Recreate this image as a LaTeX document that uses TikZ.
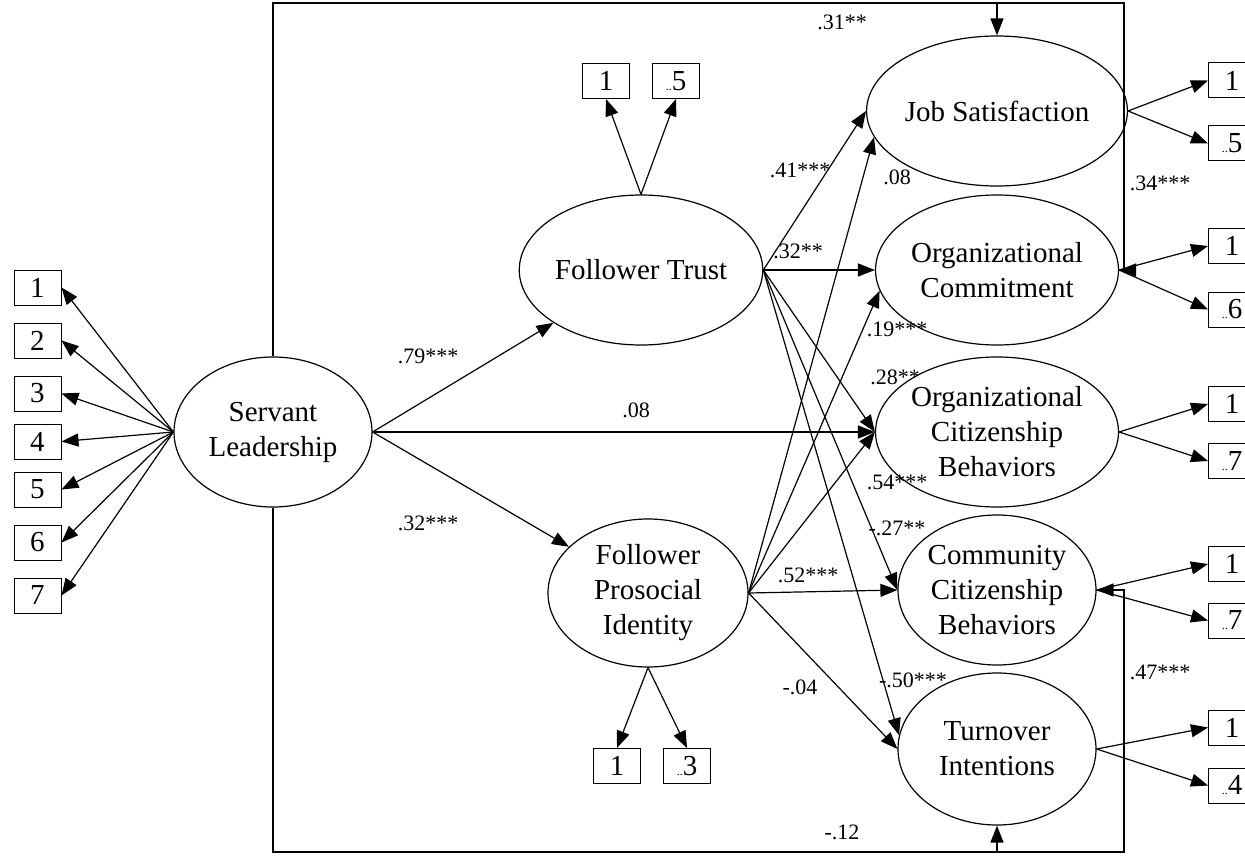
\documentclass[tikz,border=0pt]{standalone}
\usepackage{fontspec}
\setmainfont{Liberation Serif}
\usetikzlibrary{shapes.geometric,arrows.meta}
\newcommand{\bigfnt}{\fontsize{29}{35}\selectfont}
\newcommand{\labfnt}{\fontsize{22}{26}\selectfont}
\newcommand{\dd}{{\fontsize{12}{12}\selectfont ..}}
\tikzset{
  lat/.style={ellipse, draw, line width=1.2pt, minimum width=198pt, minimum height=150pt, inner sep=0pt, align=center, font=\bigfnt},
  ind/.style={draw, line width=1pt, minimum width=47pt, minimum height=35pt, inner sep=0pt, font=\bigfnt},
  lab/.style={font=\labfnt, inner sep=0pt},
  arr/.style={-{Triangle[length=17pt,width=13pt]}, line width=1.2pt},
  frame/.style={line width=1.5pt},
}
\begin{document}
\begin{tikzpicture}[x=1pt,y=-1pt]
\useasboundingbox (0,0) rectangle (1245,856);
% latent variables
\node[lat] (SL) at (273,432) {Servant\\Leadership};
\node[lat] (FT) at (641,270) {Follower Trust};
\node[lat, minimum width=200pt, minimum height=148pt] (FPI) at (648,593) {Follower\\Prosocial\\Identity};
\node[lat] (JS) at (997,111) {Job Satisfaction};
\node[lat] (OC) at (997,270) {Organizational\\Commitment};
\node[lat] (OCB) at (997,432) {Organizational\\Citizenship\\Behaviors};
\node[lat] (CCB) at (997,590) {Community\\Citizenship\\Behaviors};
\node[lat, minimum height=152pt] (TI) at (997,749) {Turnover\\Intentions};
% left indicators
\node[ind] (s1) at (37.5,287.5) {1};
\node[ind] (s2) at (37.5,340.5) {2};
\node[ind] (s3) at (37.5,393.5) {3};
\node[ind] (s4) at (37.5,441.5) {4};
\node[ind] (s5) at (37.5,489.5) {5};
\node[ind] (s6) at (37.5,542.5) {6};
\node[ind] (s7) at (37.5,595.5) {7};
\foreach \i in {1,...,7} \draw[arr] (SL.west) -- (s\i.east);
% FT indicators
\node[ind] (t1) at (606,81) {1};
\node[ind] (t2) at (676,81) {\dd5};
\draw[arr] (FT.north) -- (t1.south);
\draw[arr] (FT.north) -- (t2.south);
% FPI indicators
\node[ind] (p1) at (617,766) {1};
\node[ind] (p2) at (687,766) {\dd3};
\draw[arr] (FPI.south) -- (p1.north);
\draw[arr] (FPI.south) -- (p2.north);
% right indicators
\node[ind] (j1) at (1232,80.5) {1};
\node[ind] (j2) at (1232,143.5) {\dd5};
\node[ind] (c1) at (1232,246) {1};
\node[ind] (c2) at (1232,309.5) {\dd6};
\node[ind] (o1) at (1232,404) {1};
\node[ind] (o2) at (1232,461) {\dd7};
\node[ind] (m1) at (1232,564) {1};
\node[ind] (m2) at (1232,620.5) {\dd7};
\node[ind] (u1) at (1232,727.5) {1};
\node[ind] (u2) at (1232,785.5) {\dd4};
\draw[arr] (JS.east) -- (j1.west);
\draw[arr] (JS.east) -- (j2.west);
\draw[arr] (OC.east) -- (c1.west);
\draw[arr] (OC.east) -- (c2.west);
\draw[arr] (OCB.east) -- (o1.west);
\draw[arr] (OCB.east) -- (o2.west);
\draw[arr] (CCB.east) -- (m1.west);
\draw[arr] (CCB.east) -- (m2.west);
\draw[arr] (TI.east) -- (u1.west);
\draw[arr] (TI.east) -- (u2.west);
% structural paths
\draw[arr] (SL.east) -- (FT);
\draw[arr] (SL.east) -- (FPI);
\draw[arr] (SL.east) -- (OCB.west);
\draw[arr] (FT.east) -- (JS.west);
\draw[arr] (FT.east) -- (OC.west);
\draw[arr] (FT.east) -- (OCB.west);
\draw[arr] (FT.east) -- (CCB.west);
\draw[arr] (FT.east) -- (TI.172);
\draw[arr] (FPI.east) -- (JS.192);
\draw[arr] (FPI.east) -- (OC.190);
\draw[arr] (FPI.east) -- (OCB.west);
\draw[arr] (FPI.east) -- (CCB.west);
\draw[arr] (FPI.east) -- (TI.west);
% frame
\coordinate (ftr) at (1124,3);
\coordinate (fbr) at (1124,852);
\draw[arr, frame] (SL.north) |- (ftr) |- (OC.east);
\draw[arr, frame] (JS.north |- ftr) -- (JS.north);
\draw[arr, frame] (SL.south) |- (fbr) |- (CCB.east);
\draw[arr, frame] (TI.south |- fbr) -- (TI.south);
% labels
\node[lab] (l1) at (842,22) {.31**};
\node[lab] (l2) at (800,170) {.41***};
\node[lab] (l3) at (897,177) {.08};
\node[lab] (l4) at (1160,183) {.34***};
\node[lab] (l5) at (798,251) {.32**};
\node[lab] (l6) at (428,356) {.79***};
\node[lab] (l7) at (897,329) {.19***};
\node[lab] (l8) at (895,377) {.28**};
\node[lab] (l9) at (636,410) {.08};
\node[lab] (l10) at (897,482) {.54***};
\node[lab] (l11) at (897,528) {-.27**};
\node[lab] (l12) at (428,523) {.32***};
\node[lab] (l13) at (808,575) {.52***};
\node[lab] (l14) at (1160,672) {.47***};
\node[lab] (l15) at (913,680) {-.50***};
\node[lab] (l16) at (800,687) {-.04};
\node[lab] (l17) at (842,832) {-.12};
\end{tikzpicture}
\end{document}
